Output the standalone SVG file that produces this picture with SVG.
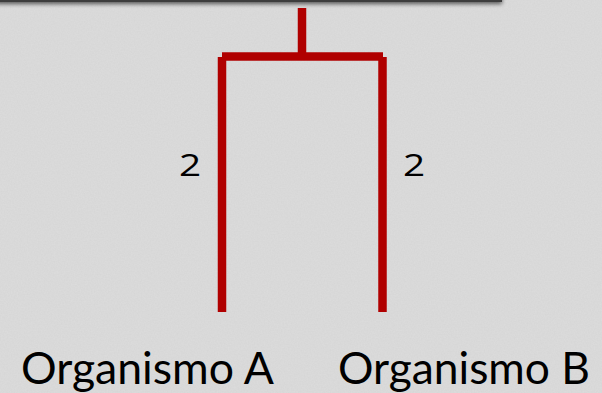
<svg xmlns="http://www.w3.org/2000/svg" width="602" height="393" viewBox="0 0 602 393">
<defs>
<style>
.branch{stroke:#B00000;stroke-width:8.5;fill:none;stroke-linecap:butt}
.lbl{font-family:Lato,"Open Sans","Liberation Sans",sans-serif;fill:#000}
.num{font-family:"Open Sans",Lato,sans-serif;font-size:31px;text-anchor:middle}
.org{font-size:44px}
</style>
<filter id="shadow" x="-10%" y="-50%" width="120%" height="300%">
<feGaussianBlur in="SourceAlpha" stdDeviation="2"/>
<feOffset dx="0" dy="2" result="b"/>
<feComponentTransfer><feFuncA type="linear" slope="0.6"/></feComponentTransfer>
<feMerge><feMergeNode/><feMergeNode in="SourceGraphic"/></feMerge>
</filter>
<filter id="noise" x="0" y="0" width="100%" height="100%">
<feTurbulence type="fractalNoise" baseFrequency="0.7" numOctaves="2" seed="3"/>
<feColorMatrix type="matrix" values="0 0 0 0 1  0 0 0 0 1  0 0 0 0 1  0 0 0 0.18 0"/>
</filter>
</defs>
<rect x="0" y="0" width="602" height="393" fill="#d5d5d5"/>
<rect x="0" y="0" width="602" height="393" filter="url(#noise)"/>
<g id="top-box">
<rect x="-10" y="-30" width="512" height="32" fill="#3c3c3c" filter="url(#shadow)"/>
</g>
<g id="connectors">
<path class="branch" d="M302 8 V56.5"/>
<path class="branch" d="M222 56.5 H383"/>
<path class="branch" d="M222 57 V312"/>
<path class="branch" d="M382.5 57 V312"/>
</g>
<g id="edge-labels">
<text class="lbl num" transform="translate(190 175.5) scale(1.25 1)">2</text>
<text class="lbl num" transform="translate(414 175.5) scale(1.25 1)">2</text>
</g>
<g id="organismo-a">
<text class="lbl org" x="21" y="384" textLength="253" lengthAdjust="spacingAndGlyphs">Organismo A</text>
</g>
<g id="organismo-b">
<text class="lbl org" x="338" y="384" textLength="252" lengthAdjust="spacingAndGlyphs">Organismo B</text>
</g>
</svg>
